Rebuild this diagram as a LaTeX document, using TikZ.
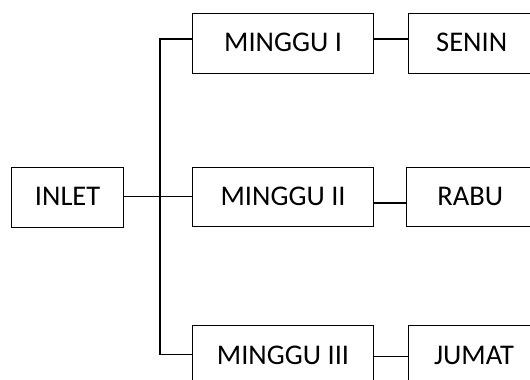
\documentclass[tikz,border=0pt]{standalone}
\usepackage{fontspec}
\setmainfont{Carlito}
\begin{document}
\begin{tikzpicture}[x=1pt,y=-1pt,
  box/.style={draw, line width=1pt, inner sep=0pt, minimum height=59.5pt,
    text height=18pt, text depth=2pt, font=\fontsize{28.5}{32}\selectfont},
  link/.style={line width=1.2pt}]
\useasboundingbox (0,0) rectangle (530,380);
\clip (0,0) rectangle (530,380);

% boxes
\node[box, minimum width=112pt, minimum height=59.6pt] (inlet) at (67.6,197.5) {INLET};
\node[box, minimum width=181.5pt] (m1) at (283.1,43.3) {MINGGU I};
\node[box, minimum width=181.5pt] (m2) at (283.1,197) {MINGGU II};
\node[box, minimum width=181.2pt, minimum height=62pt] (m3) at (283,356) {MINGGU III};
\node[box, minimum width=127pt] (senin) at (471.7,43.3) {SENIN};
\node[box, minimum width=127pt] (rabu) at (470.3,197) {RABU};
\node[box, minimum width=131pt, minimum height=62pt] (jumat) at (474,356) {JUMAT};

% branching bus
\coordinate (bt) at (160,39);
\coordinate (bm) at (160,196.7);
\coordinate (bb) at (160,354.3);
\draw[link] (m1.west |- bt) -- (bt) -- (bb) -- (m3.west |- bb);
\draw[link] (inlet.east |- bm) -- (m2.west |- bm);

% week to day links
\draw[link] (m1.east |- bt) -- (senin.west |- bt);
\draw[link] ([yshift=-6pt]m2.east) -- ([yshift=-6pt]rabu.west);
\coordinate (jt) at (0,356.7);
\draw[link] (m3.east |- jt) -- (jumat.west |- jt);
\end{tikzpicture}
\end{document}
